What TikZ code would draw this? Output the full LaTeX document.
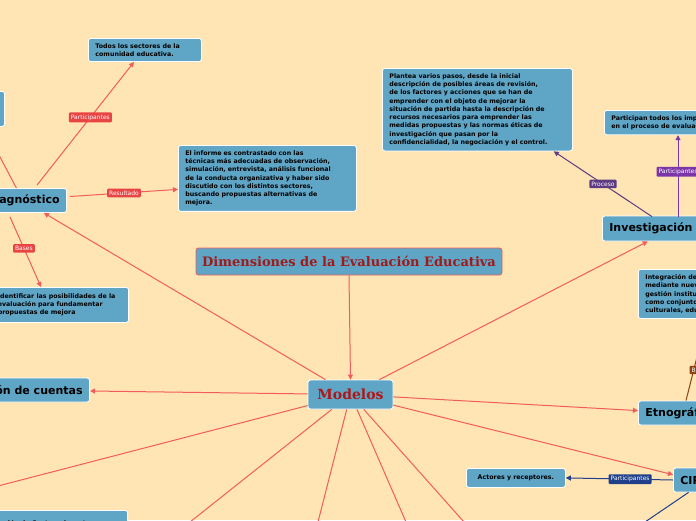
\documentclass[tikz,border=0pt]{standalone}
\usepackage{fontspec}
\setmainfont{DejaVu Sans}
\newfontfamily\titlefont{DejaVu Serif}
\usetikzlibrary{arrows.meta}
\definecolor{bg}{HTML}{FFE5B4}
\definecolor{boxc}{HTML}{5FA5C6}
\definecolor{redl}{HTML}{F25C5C}
\definecolor{redlab}{HTML}{E84444}
\definecolor{purp}{HTML}{5E3A82}
\definecolor{purp2}{HTML}{7B35A8}
\definecolor{navy}{HTML}{1F3F8A}
\definecolor{brn}{HTML}{8B4513}
\definecolor{titr}{HTML}{9E1B1B}
\tikzset{
 box/.style={fill=boxc,draw=white,line width=0.8pt,rounded corners=2.5pt,align=left,font=\bfseries\fontsize{6.3}{8.3}\selectfont,inner xsep=7pt,inner ysep=5pt,text=black},
 mainbox/.style={fill=boxc,draw=white,line width=0.8pt,rounded corners=2.5pt,font=\bfseries\fontsize{11}{13}\selectfont,inner xsep=7pt,inner ysep=5pt},
 conn/.style={draw=redl,line width=1pt,-{Triangle[length=5pt,width=5pt]}},
 plain/.style={draw=redl,line width=1pt},
 lab/.style={fill=#1,text=white,font=\fontsize{6}{7}\selectfont,inner sep=2pt,rounded corners=1pt},
}
\begin{document}
\begin{tikzpicture}[x=1pt,y=-1pt]
\fill[bg] (0,0) rectangle (696,520);
\useasboundingbox (0,0) rectangle (696,520);
\clip (0,0) rectangle (696,520);
% nodes
\node[fill=boxc,draw=redl,line width=0.8pt,rounded corners=2.5pt,font=\titlefont\bfseries\fontsize{13}{15}\selectfont,text=titr,minimum width=306pt,minimum height=27pt] (title) at (349,261.5) {Dimensiones de la Evaluación Educativa};
\node[mainbox,font=\titlefont\bfseries\fontsize{14}{16}\selectfont,text=titr!80!red,minimum width=85pt,minimum height=29pt] (mod) at (350.5,394.5) {Modelos};
\node[mainbox,anchor=east,minimum height=24pt] (diag) at (67,200.5) {Diagnóstico};
\node[box,anchor=north west,text width=99pt] (todos) at (88,38) {Todos los sectores de la\\comunidad educativa.};
\node[box,anchor=north west,text width=164pt] (inf) at (178,145) {El informe es contrastado con las\\técnicas más adecuadas de observación,\\simulación, entrevista, análisis funcional\\de la conducta organizativa y haber sido\\discutido con los distintos sectores,\\buscando propuestas alternativas de\\mejora.};
\node[box,anchor=north east,minimum height=35pt] (bases) at (129,287) {Identificar las posibilidades de la\\evaluación para fundamentar\\propuestas de mejora\hspace*{46pt}};
\node[box,anchor=north east,minimum width=60pt,minimum height=35pt] (lt) at (5,91) {};
\node[mainbox,anchor=east,minimum height=24pt] (rend) at (90,390) {Rendición de cuentas};
\node[mainbox,anchor=west,minimum height=25pt] (inv) at (602,228.5) {Investigación acción};
\node[box,anchor=north west,text width=176pt] (plan) at (382,68) {Plantea varios pasos, desde la inicial\\descripción de posibles áreas de revisión,\\de los factores y acciones que se han de\\emprender con el objeto de mejorar la\\situación de partida hasta la descripción de\\recursos necesarios para emprender las\\medidas propuestas y las normas éticas de\\investigación que pasan por la\\confidencialidad, la negociación y el control.};
\node[box,anchor=north west] (part) at (604,110) {Participan todos los implicados\\en el proceso de evaluación.};
\node[box,anchor=north west] (integ) at (638,269) {Integración de la comunidad\\mediante nuevas formas de\\gestión institucional, entendida\\como conjunto de elementos\\culturales, educativos.};
\node[mainbox,anchor=west,minimum height=24pt] (etno) at (638,413) {Etnográfica};
\node[mainbox,anchor=west,minimum height=24pt] (cipp) at (673,480) {CIPP};
\node[box,anchor=north west,minimum height=19pt,minimum width=99pt,inner ysep=3pt] (act) at (466,468) {Actores y receptores.};
\node[box,anchor=north east,text width=140pt,minimum height=25pt] (cen) at (128,510) {Evaluación de Centros docentes};
\coordinate (b1) at (190,522);
\coordinate (b2) at (318,522);
\coordinate (b3) at (406,522);
\coordinate (b4) at (464,522);
\coordinate (b5) at (-2,486);
\coordinate (bl) at (645,522);
\coordinate (br) at (700,345);
% connectors
\draw[conn] (title.south) -- (mod.north);
\draw[conn] (mod) -- (diag);
\draw[conn] (mod) -- (rend);
\draw[conn] (mod) -- (inv);
\draw[conn] (mod) -- (etno);
\draw[conn] (mod) -- (cipp);
\draw[plain] (mod) -- (b1);
\draw[plain] (mod) -- (b2);
\draw[plain] (mod) -- (b3);
\draw[plain] (mod) -- (b4);
\draw[plain] (mod) -- (b5);
\draw[plain] (diag) -- (lt);
\draw[conn] (diag.north east)+(-30,-3) coordinate (d1) (d1) -- node[lab=redlab,pos=0.55]{Participantes} ([xshift=46pt]todos.south west);
\draw[conn] (diag.east)+(3,-4) coordinate (d2) (d2) -- node[lab=redlab,pos=0.5]{Resultado} ([yshift=-11pt]inf.west);
\draw[conn] (diag.south)+(-13,4) coordinate (d3) (d3) -- node[lab=redlab,pos=0.45]{Bases} ([xshift=-88pt]bases.north east);
\draw[purp,line width=1pt,-{Triangle[length=5pt,width=5pt]}] ([xshift=50pt,yshift=-1pt]inv.north west) coordinate (i1) -- node[lab=purp,pos=0.5]{Proceso} ([xshift=-19pt]plan.south east);
\draw[purp2,line width=1pt,-{Triangle[length=5pt,width=5pt]}] ([xshift=76pt,yshift=-1pt]inv.north west) coordinate (i2) -- node[lab=purp2,pos=0.55]{Participantes} (i2 |- part.south);
\draw[brn,line width=1pt] ([xshift=48pt]etno.north west) coordinate (e1) -- node[lab=brn,pos=0.55]{B} (br);
\draw[navy,line width=1pt,-{Triangle[length=5pt,width=5pt]}] (cipp.west) -- node[lab=navy,pos=0.4]{Participantes} (act.east);
\draw[navy,line width=1pt] ([xshift=-6pt]cipp.south) coordinate (c1) -- (bl);
\end{tikzpicture}
\end{document}
